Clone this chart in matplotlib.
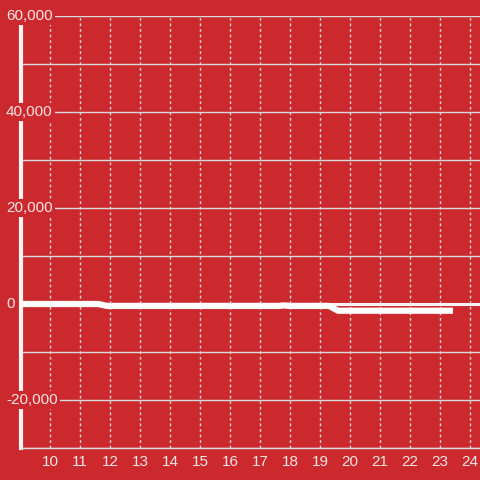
import matplotlib
matplotlib.use("Agg")
import matplotlib.pyplot as plt
import matplotlib.transforms as mtransforms

# Dữ liệu
hours = [9.0, 11.6, 11.9, 17.6, 17.8, 18.0, 19.3, 19.6, 23.43]
values = [0, 0, -400, -400, -300, -400, -400, -1400, -1400]
y_ticks = [60000, 40000, 20000, 0, -20000]
y_labels = ["60,000", "40,000", "20,000", "0", "-20,000"]
x_ticks = list(range(10, 25))

BG = "#CC292E"
GRID = "#D9D9D9"
TEXT = "#F2E6E6"

plt.rcParams["font.family"] = ["Liberation Sans", "DejaVu Sans"]

fig = plt.figure(figsize=(4.8, 4.8), dpi=100, facecolor=BG)
ax = fig.add_axes([21 / 480, 32 / 480, 1 - 21 / 480, (448 - 16) / 480])
ax.set_facecolor(BG)

ax.set_xlim(9.03, 24.33)
ax.set_ylim(-30000, 60000)

# Lưới
ax.set_yticks(range(-30000, 60001, 10000))
ax.set_xticks(x_ticks)
ax.grid(True, axis="y", color=GRID, linewidth=1, linestyle="-")
ax.grid(True, axis="x", color=GRID, linewidth=1, linestyle=(0, (2, 2)))
ax.set_axisbelow(True)
ax.tick_params(axis="both", length=0)
ax.tick_params(axis="x", colors=TEXT, labelsize=11, pad=5)
ax.set_yticklabels([])

for s in ["top", "right"]:
    ax.spines[s].set_visible(False)
ax.spines["bottom"].set_color(GRID)
ax.spines["bottom"].set_linewidth(1)
ax.spines["left"].set_color("#F4F4F4")
ax.spines["left"].set_linewidth(3)
ax.spines["left"].set_bounds(-30000, 58300)

# Đường 0 và chuỗi dữ liệu
ax.axhline(0, color="#F4F4F4", linewidth=2.2, zorder=2)
ax.plot(hours, values, color="white", linewidth=4.5, solid_capstyle="butt",
        clip_on=False, zorder=3)

# Nhãn trục y có nền che đường trục
trans = mtransforms.blended_transform_factory(fig.transFigure, ax.transData)
for v, lab in zip(y_ticks, y_labels):
    ax.text(6 / 480, v, lab, transform=trans, ha="left", va="center",
            fontsize=11, color=TEXT, zorder=6, clip_on=False,
            bbox=dict(facecolor=BG, edgecolor="none", pad=1.5))

fig.savefig("out.png", dpi=100, facecolor=BG)
